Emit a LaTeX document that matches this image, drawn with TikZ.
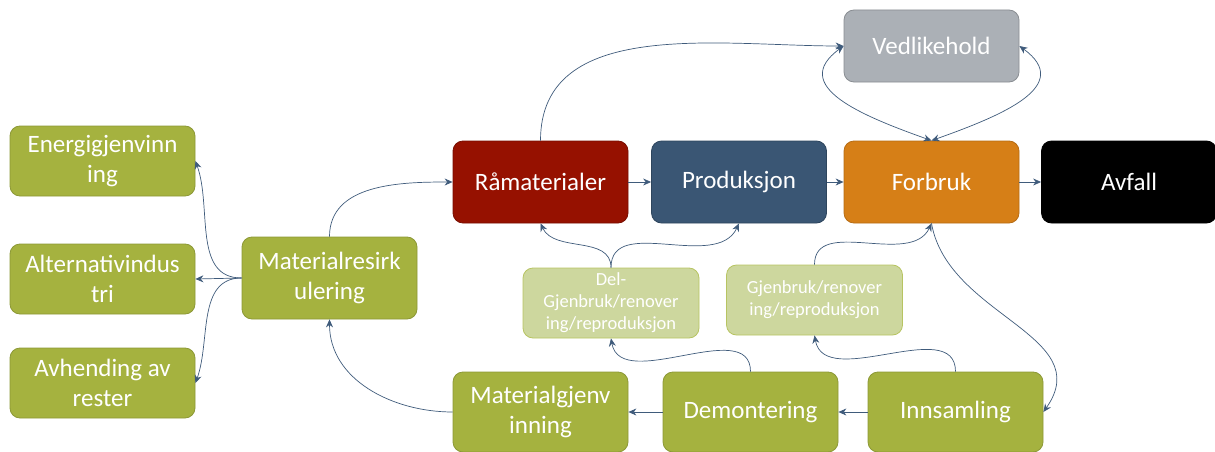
\documentclass[tikz,border=0pt]{standalone}
\usepackage{fontspec}
\setmainfont{Carlito}
\usetikzlibrary{arrows.meta}
\definecolor{olive}{HTML}{A5B23F}
\definecolor{olivedark}{HTML}{8C9836}
\definecolor{olivelight}{HTML}{CDD79E}
\definecolor{olivelightedge}{HTML}{B7C462}
\definecolor{rawred}{HTML}{961100}
\definecolor{prodblue}{HTML}{3A5674}
\definecolor{useorange}{HTML}{D67F17}
\definecolor{maintgray}{HTML}{ABB0B6}
\definecolor{flowline}{HTML}{3F5B7B}
\tikzset{box/.style={rectangle, rounded corners=10pt, draw, line width=0.8pt, text=white, align=center,
                     inner sep=0pt, minimum width=175pt, minimum height=82pt,
                     font=\fontsize{25}{30}\selectfont},
         greenbox/.style={box, fill=olive, draw=olivedark},
         sidebox/.style={greenbox, minimum width=185pt, minimum height=70pt},
         reusebox/.style={box, fill=olivelight, draw=olivelightedge, minimum width=176pt, minimum height=70pt,
                          font=\fontsize{18.5}{22}\selectfont},
         flow/.style={draw=flowline, line width=0.7pt, -{Stealth[length=8pt,width=7pt]}},
         flowboth/.style={flow, {Stealth[length=8pt,width=7pt]}-{Stealth[length=8pt,width=7pt]}}}

\begin{document}
\begin{tikzpicture}[x=1pt,y=-1pt] % y goes down, so numbers read like pixels
\useasboundingbox (0,0) rectangle (1215,452);
% top row
\node[box, fill=rawred, draw=rawred!80!black] (raw) at (540.5,182) {Råmaterialer};
\node[box, fill=prodblue, draw=prodblue!80!black] (prod) at (739,182) {Produksjon};
\node[box, fill=useorange, draw=useorange!85!black] (use) at (931.5,182) {Forbruk};
\node[box, fill=black, draw=black] (waste) at (1129,182) {Avfall};
\node[box, fill=maintgray, draw=maintgray!80!black, minimum height=72pt] (maint) at (931.5,46) {Vedlikehold};
% reuse boxes
\node[reusebox] (partreuse) at (611,303) {Del-\\Gjenbruk/renover\\ing/reproduksjon};
\node[reusebox] (reuse) at (814.5,300) {Gjenbruk/renover\\ing/reproduksjon};
% bottom row
\node[greenbox, minimum height=80pt] (matrec) at (540.5,412) {Materialgjenv\\inning};
\node[greenbox, minimum height=80pt] (dismantle) at (750.5,412) {Demontering};
\node[greenbox, minimum height=80pt] (collect) at (955.5,412) {Innsamling};
% recycling and the left column
\node[greenbox] (matres) at (329.5,278) {Materialresirk\\ulering};
\node[sidebox] (energy) at (102.5,161) {Energigjenvinn\\ing};
\node[sidebox] (altind) at (102.5,279) {Alternativindus\\tri};
\node[sidebox] (dispose) at (102.5,383) {Avhending av\\rester};

% main flow
\draw[flow] (raw) -- (prod);
\draw[flow] (prod) -- (use);
\draw[flow] (use) -- (waste);
\draw[flow] (raw.north) to[out=90,in=180] (maint.west);
% the two maintenance loops
\draw[flowboth] (maint.west) .. controls +(-55,40) and +(-70,-25) .. (use.north);
\draw[flowboth] (maint.east) .. controls +(55,40) and +(70,-25) .. (use.north);
% back loops
\draw[flow] (use.south) to[out=-80,in=55,looseness=1.1] (collect.east);
\draw[flow] (collect) -- (dismantle);
\draw[flow] (dismantle) -- (matrec);
\draw[flow] (collect.north) to[out=90,in=-80] (reuse.south);
\draw[flow] (reuse.north) to[out=90,in=-115] (use.south);
\draw[flow] (dismantle.north) to[out=90,in=-80] (partreuse.south);
\draw[flow] (partreuse.north) to[out=90,in=-65] (raw.south);
\draw[flow] (partreuse.north) to[out=90,in=-115] (prod.south);
\draw[flow] (matrec.west) to[out=180,in=-90] (matres.south);
\draw[flow] (matres.north) to[out=90,in=180] (raw.west);
% out of recycling
\draw[flow] (matres.west) to[out=180,in=-70] (energy.east);
\draw[flow] (matres.west) -- (altind.east);
\draw[flow] (matres.west) to[out=180,in=70] (dispose.east);
\end{tikzpicture}
\end{document}
